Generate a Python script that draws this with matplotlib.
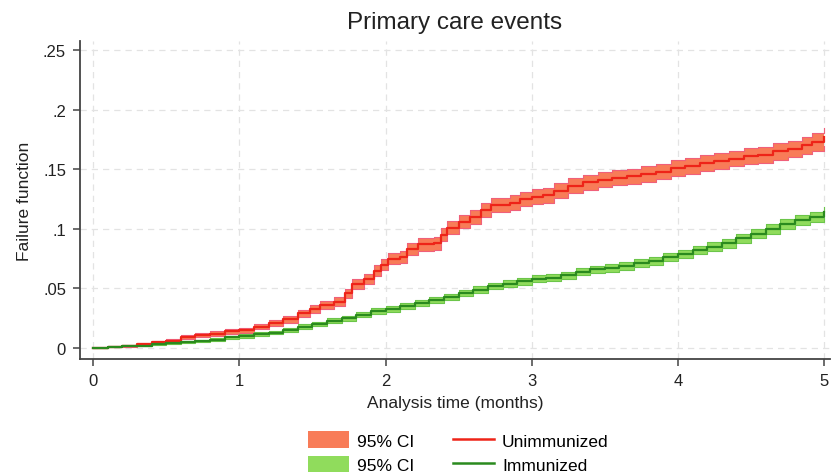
import matplotlib
matplotlib.use("Agg")
import matplotlib.pyplot as plt
from matplotlib.patches import Patch
from matplotlib.lines import Line2D
import numpy as np

plt.rcParams['font.family'] = ['Liberation Sans', 'DejaVu Sans']

title = "Primary care events"
xlabel = "Analysis time (months)"
ylabel = "Failure function"
xticks = [0, 1, 2, 3, 4, 5]
xticklabels = ["0", "1", "2", "3", "4", "5"]
yticks = [0, 0.05, 0.10, 0.15, 0.20, 0.25]
yticklabels = ["0", ".05", ".1", ".15", ".2", ".25"]
series_names = ["Unimmunized", "Immunized"]
ci_label = "95% CI"

# Unimmunized (red) Kaplan-Meier failure estimate
t_unimm = [0.00, 0.10, 0.20, 0.30, 0.40, 0.50, 0.60, 0.70, 0.80, 0.90,
           1.00, 1.10, 1.20, 1.30, 1.40, 1.48, 1.55, 1.65, 1.72, 1.77,
           1.85, 1.92, 1.97, 2.02, 2.10, 2.15, 2.22, 2.33, 2.38, 2.42,
           2.50, 2.58, 2.65, 2.72, 2.85, 2.92, 3.00, 3.08, 3.15, 3.25,
           3.35, 3.45, 3.55, 3.65, 3.75, 3.85, 3.95, 4.05, 4.15, 4.25,
           4.35, 4.45, 4.55, 4.65, 4.75, 4.85, 4.92, 5.00]
f_unimm = [0.000, 0.001, 0.002, 0.003, 0.005, 0.006, 0.009, 0.011, 0.012, 0.014,
           0.015, 0.018, 0.021, 0.024, 0.029, 0.033, 0.036, 0.039, 0.046, 0.054,
           0.058, 0.065, 0.070, 0.075, 0.076, 0.083, 0.087, 0.088, 0.095, 0.101,
           0.106, 0.110, 0.116, 0.120, 0.122, 0.125, 0.127, 0.128, 0.132, 0.136,
           0.139, 0.141, 0.143, 0.144, 0.146, 0.148, 0.151, 0.153, 0.155, 0.157,
           0.159, 0.161, 0.162, 0.165, 0.167, 0.170, 0.173, 0.177]
ci_unimm = [0.0000, 0.0005, 0.0008, 0.0010, 0.0012, 0.0014, 0.0016, 0.0018, 0.0019, 0.0020,
            0.0021, 0.0023, 0.0025, 0.0027, 0.0030, 0.0032, 0.0034, 0.0035, 0.0038, 0.0041,
            0.0043, 0.0045, 0.0047, 0.0049, 0.0050, 0.0052, 0.0053, 0.0054, 0.0055, 0.0056,
            0.0057, 0.0058, 0.0059, 0.0060, 0.0060, 0.0061, 0.0062, 0.0062, 0.0062, 0.0063,
            0.0063, 0.0063, 0.0064, 0.0064, 0.0064, 0.0065, 0.0065, 0.0066, 0.0066, 0.0067,
            0.0067, 0.0068, 0.0069, 0.0070, 0.0071, 0.0072, 0.0073, 0.0075]

# Immunized (green) Kaplan-Meier failure estimate
t_imm = [0.00, 0.10, 0.20, 0.30, 0.40, 0.50, 0.60, 0.70, 0.80, 0.90,
         1.00, 1.10, 1.20, 1.30, 1.40, 1.50, 1.60, 1.70, 1.80, 1.90,
         2.00, 2.10, 2.20, 2.30, 2.40, 2.50, 2.60, 2.70, 2.80, 2.90,
         3.00, 3.10, 3.20, 3.30, 3.40, 3.50, 3.60, 3.70, 3.80, 3.90,
         4.00, 4.10, 4.20, 4.30, 4.40, 4.50, 4.60, 4.70, 4.80, 4.90, 5.00]
f_imm = [0.000, 0.001, 0.002, 0.002, 0.003, 0.004, 0.005, 0.006, 0.007, 0.009,
         0.010, 0.012, 0.013, 0.015, 0.018, 0.020, 0.023, 0.025, 0.028, 0.031,
         0.033, 0.035, 0.038, 0.040, 0.043, 0.046, 0.049, 0.052, 0.054, 0.056,
         0.058, 0.059, 0.061, 0.064, 0.066, 0.067, 0.069, 0.071, 0.073, 0.076,
         0.079, 0.082, 0.085, 0.088, 0.092, 0.096, 0.100, 0.104, 0.107, 0.110, 0.114]
ci_imm = [0.0000, 0.0004, 0.0006, 0.0007, 0.0008, 0.0009, 0.0010, 0.0011, 0.0012, 0.0013,
          0.0014, 0.0015, 0.0016, 0.0017, 0.0018, 0.0019, 0.0020, 0.0021, 0.0022, 0.0023,
          0.0024, 0.0025, 0.0026, 0.0026, 0.0027, 0.0027, 0.0028, 0.0028, 0.0029, 0.0029,
          0.0030, 0.0030, 0.0031, 0.0031, 0.0032, 0.0032, 0.0033, 0.0033, 0.0034, 0.0034,
          0.0035, 0.0035, 0.0036, 0.0037, 0.0038, 0.0039, 0.0040, 0.0041, 0.0042, 0.0043, 0.0045]

red_line = "#EE2418"
red_fill = "#F87C58"
red_edge = "#F0607A"
green_line = "#2A8A1E"
green_fill = "#90DC5C"
green_edge = "#6CC54A"

fig = plt.figure(figsize=(8.33, 4.77), dpi=100)
ax = fig.add_axes([0.096, 0.2453, 0.9004, 0.6667])

for t, f, c, lc, fc, ec in [(t_unimm, f_unimm, ci_unimm, red_line, red_fill, red_edge),
                            (t_imm, f_imm, ci_imm, green_line, green_fill, green_edge)]:
    t = np.array(t); f = np.array(f); c = np.array(c)
    lo = f - c; hi = f + c
    ax.fill_between(t, lo, hi, step='post', color=fc, lw=0, zorder=2)
    ax.step(t, lo, where='post', color=ec, lw=0.8, zorder=2.5)
    ax.step(t, hi, where='post', color=ec, lw=0.8, zorder=2.5)
    ax.step(t, f, where='post', color=lc, lw=1.6, zorder=3)

ax.set_xlim(-0.09, 5.04)
ax.set_ylim(-0.0092, 0.2576)
ax.set_xticks(xticks)
ax.set_xticklabels(xticklabels)
ax.set_yticks(yticks)
ax.set_yticklabels(yticklabels)
ax.grid(True, color="#E3E3E3", linestyle=(0, (5, 4)), lw=0.9, zorder=0)
ax.set_axisbelow(True)
for s in ['top', 'right']:
    ax.spines[s].set_visible(False)
for s in ['left', 'bottom']:
    ax.spines[s].set_color("#444444")
    ax.spines[s].set_linewidth(1.3)
ax.tick_params(axis='both', direction='out', length=5, width=1.1, color="#444444",
               labelsize=12, labelcolor="#222222", pad=5)
ax.set_xlabel(xlabel, fontsize=12.5, color="#222222", labelpad=5)
ax.set_ylabel(ylabel, fontsize=12.5, color="#222222", labelpad=8)
ax.set_title(title, fontsize=17.5, color="#222222", pad=9)

handles = [Patch(facecolor=red_fill, edgecolor='none'),
           Patch(facecolor=green_fill, edgecolor='none'),
           Line2D([], [], color=red_line, lw=1.8),
           Line2D([], [], color=green_line, lw=1.8)]
labels = [ci_label, ci_label, series_names[0], series_names[1]]
fig.legend(handles, labels, ncol=2, loc='center', bbox_to_anchor=(0.55, 0.050),
           frameon=False, fontsize=12.5, handlelength=2.4, handleheight=1.1,
           columnspacing=2.2, handletextpad=0.45, labelspacing=0.4)

fig.savefig("out.png", dpi=100, facecolor='white')
